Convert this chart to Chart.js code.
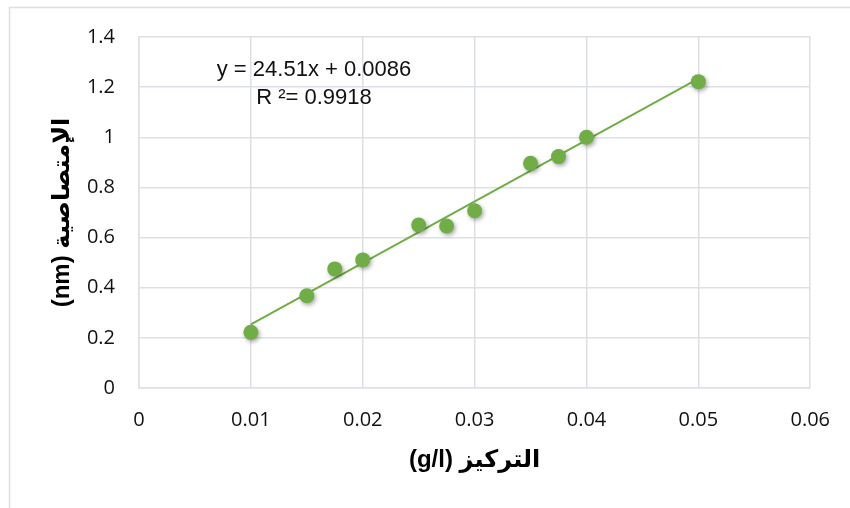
<!DOCTYPE html>
<html>
<head>
<meta charset="utf-8">
<script src="https://cdn.jsdelivr.net/npm/chart.js@4.4.1/dist/chart.umd.min.js"></script>
<style>
  html, body { margin: 0; padding: 0; background: #fff; }
  #wrap { width: 850px; height: 508px; }
</style>
</head>
<body>
<div id="wrap"><canvas id="chart" width="850" height="508"></canvas></div>
<script>
// concentration (g/l)
const concentration = [0.01, 0.015, 0.0175, 0.02, 0.025, 0.0275, 0.03, 0.035, 0.0375, 0.04, 0.05];
// absorbance
const absorbance = [0.222, 0.368, 0.475, 0.511, 0.650, 0.646, 0.707, 0.896, 0.923, 1.0, 1.222];
// linear trendline ends, as drawn
const trendX = [0.01, 0.05];
const trendY = [0.254, 1.234];
const xTickLabels = ['0', '0.01', '0.02', '0.03', '0.04', '0.05', '0.06'];
const yTickLabels = ['0', '0.2', '0.4', '0.6', '0.8', '1', '1.2', '1.4'];
const equationLines = ['y = 24.51x + 0.0086', 'R \u00b2= 0.9918'];

const green = '#70AD47';
const gridColor = '#dcdfe6';

// outer chart frame and trendline equation
const framePlugin = {
  id: 'frame',
  beforeDraw(chart) {
    const ctx = chart.ctx;
    ctx.save();
    ctx.strokeStyle = '#dcdfe6';
    ctx.lineWidth = 1.5;
    ctx.strokeRect(9.5, 7.5, 900, 600);
    ctx.restore();
  },
  afterDraw(chart) {
    const ctx = chart.ctx;
    const a = chart.chartArea;
    ctx.save();
    ctx.fillStyle = '#111';
    ctx.font = '22px "Liberation Sans", Arial, sans-serif';
    ctx.textAlign = 'center';
    ctx.textBaseline = 'middle';
    ctx.fillText(equationLines[0], a.left + 175, a.top + 33);
    ctx.fillText(equationLines[1], a.left + 175, a.top + 61);
    ctx.restore();
  }
};

// soft shadow under the markers
const shadowPlugin = {
  id: 'markerShadow',
  beforeDatasetDraw(chart, args) {
    if (args.index !== 0) return;
    const ctx = chart.ctx;
    ctx.save();
    ctx.shadowColor = 'rgba(0,0,0,0.35)';
    ctx.shadowBlur = 4;
    ctx.shadowOffsetX = 1.5;
    ctx.shadowOffsetY = 2;
  },
  afterDatasetDraw(chart, args) {
    if (args.index !== 0) return;
    chart.ctx.restore();
  }
};

const tickFont = { family: '"Open Sans", sans-serif', size: 20 };
const titleFont = { family: '"Liberation Sans", "DejaVu Sans", sans-serif', size: 24, weight: 'bold' };

new Chart(document.getElementById('chart'), {
  type: 'scatter',
  data: {
    datasets: [
      {
        label: 'absorbance',
        data: concentration.map((x, i) => ({ x: x, y: absorbance[i] })),
        backgroundColor: green,
        borderColor: green,
        pointRadius: 7.5,
        pointHoverRadius: 7.5,
        borderWidth: 0
      },
      {
        label: 'trend',
        type: 'line',
        data: trendX.map((x, i) => ({ x: x, y: trendY[i] })),
        borderColor: green,
        borderWidth: 2,
        pointRadius: 0,
        fill: false
      }
    ]
  },
  options: {
    responsive: false,
    animation: false,
    devicePixelRatio: 1,
    layout: { padding: { left: 0, top: 37, right: 38, bottom: 0 } },
    plugins: {
      legend: { display: false },
      tooltip: { enabled: false }
    },
    scales: {
      x: {
        type: 'linear',
        min: 0,
        max: 0.06,
        afterFit(scale) { scale.height = 120; },
        ticks: {
          stepSize: 0.01,
          padding: 20,
          color: '#111',
          font: tickFont,
          maxRotation: 0,
          callback: (v, i) => xTickLabels[i]
        },
        grid: { color: gridColor, lineWidth: 1.5, drawTicks: false },
        border: { display: true, color: gridColor, width: 1.5 },
        title: {
          display: true,
          text: '(g/l) التركيز',
          color: '#000',
          font: titleFont,
          padding: { top: 0, bottom: 33 }
        }
      },
      y: {
        min: 0,
        max: 1.4,
        afterFit(scale) { scale.width = 139; },
        ticks: {
          stepSize: 0.2,
          padding: 24,
          color: '#111',
          font: tickFont,
          callback: (v, i) => yTickLabels[i]
        },
        grid: { color: gridColor, lineWidth: 1.5, drawTicks: false },
        border: { display: true, color: gridColor, width: 1.5 },
        title: {
          display: true,
          text: '(nm) الإمتصاصية',
          color: '#000',
          font: titleFont,
          padding: { top: 48, bottom: 0 }
        }
      }
    }
  },
  plugins: [framePlugin, shadowPlugin]
});
</script>
</body>
</html>
